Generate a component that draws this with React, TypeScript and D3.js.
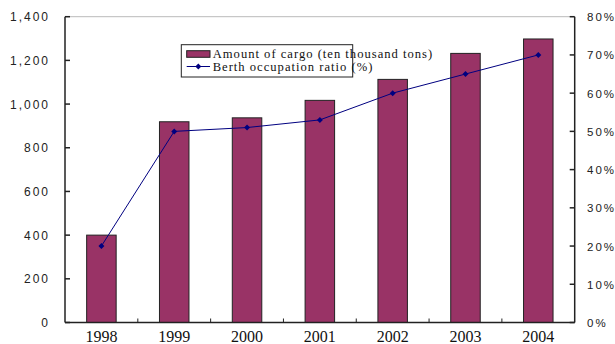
import React from "react";
import * as d3 from "d3";

const years = ["1998", "1999", "2000", "2001", "2002", "2003", "2004"];
const cargo = [400, 919, 937, 1017, 1113, 1232, 1298];
const ratio = [20, 50, 51, 53, 60, 65, 70];
const leftTicks = [0, 200, 400, 600, 800, 1000, 1200, 1400];
const rightTicks = [0, 10, 20, 30, 40, 50, 60, 70, 80];
const legendLabels = ["Amount of cargo (ten thousand tons)", "Berth occupation ratio (%)"];

export default function App() {
  const W = 615, H = 344;
  const left = 65, right = 574.7, top = 16.7, bottom = 322.5;
  const band = (right - left) / years.length;
  const xc = (y: string) => left + band * (years.indexOf(y) + 0.5);
  const yL = d3.scaleLinear().domain([0, 1400]).range([bottom, top]);
  const yR = d3.scaleLinear().domain([0, 80]).range([bottom, top]);
  const bw = 29.5;
  const line = d3.line<number>().x((_, i) => xc(years[i])).y((d) => yR(d));
  const fmt = d3.format(",");
  const axisFont = { fontFamily: "Liberation Sans, Arial, sans-serif", fontSize: 12, letterSpacing: 2, fill: "#222" };
  return (
    <svg width={W} height={H} style={{ position: "absolute", left: 0, top: 0 }}>
      <rect width={W} height={H} fill="#fff" />
      <line x1={left} x2={right} y1={top} y2={top} stroke="#bbb" strokeWidth={1} />
      {years.map((yr, i) => (
        <rect key={yr} x={xc(yr) - bw / 2} y={yL(cargo[i])} width={bw} height={bottom - yL(cargo[i])}
          fill="#993366" stroke="#222" strokeWidth={1} />
      ))}
      <path d={line(ratio) || ""} fill="none" stroke="#000080" strokeWidth={1} />
      {ratio.map((r, i) => {
        const cx = xc(years[i]), cy = yR(r);
        return <path key={i} d={`M${cx - 3},${cy}L${cx},${cy - 3}L${cx + 3},${cy}L${cx},${cy + 3}Z`} fill="#000080" />;
      })}
      <line x1={left} x2={left} y1={top} y2={bottom} stroke="#222" strokeWidth={1.5} />
      <line x1={right} x2={right} y1={top} y2={bottom} stroke="#222" strokeWidth={1.5} />
      <line x1={left} x2={right} y1={bottom} y2={bottom} stroke="#222" strokeWidth={1.5} />
      {leftTicks.map((t) => (
        <g key={t}>
          <line x1={left} x2={left + 5} y1={yL(t)} y2={yL(t)} stroke="#222" strokeWidth={1.5} />
          <text x={50} y={yL(t) + 4.5} textAnchor="end" {...axisFont}>{fmt(t)}</text>
        </g>
      ))}
      {rightTicks.map((t) => (
        <g key={t}>
          <line x1={right - 5} x2={right} y1={yR(t)} y2={yR(t)} stroke="#222" strokeWidth={1.5} />
          <text x={587} y={yR(t) + 4.5} textAnchor="start" {...axisFont} fontSize={11.5}>{t + "%"}</text>
        </g>
      ))}
      {years.slice(1).map((yr, i) => (
        <line key={yr} x1={left + band * (i + 1)} x2={left + band * (i + 1)} y1={bottom} y2={bottom - 4} stroke="#222" strokeWidth={1} />
      ))}
      {years.map((yr) => (
        <text key={yr} x={xc(yr)} y={342} textAnchor="middle" fontFamily="Liberation Serif, Times New Roman, serif" fontSize={16} fill="#111">{yr}</text>
      ))}
      <rect x={181.3} y={44.7} width={171.4} height={32.3} fill="#fff" stroke="#222" strokeWidth={1} />
      <rect x={186.7} y={50.7} width={23.3} height={6.6} fill="#993366" stroke="#222" strokeWidth={1} />
      <line x1={186.7} x2={210} y1={66.5} y2={66.5} stroke="#000080" strokeWidth={1} />
      <path d={`M195.3,66.5L198.3,63.5L201.3,66.5L198.3,69.5Z`} fill="#000080" />
      <text x={212.7} y={57.5} fontFamily="Liberation Serif, Times New Roman, serif" fontSize={12.6} letterSpacing={1} fill="#111">{legendLabels[0]}</text>
      <text x={212.7} y={70.5} fontFamily="Liberation Serif, Times New Roman, serif" fontSize={12.6} letterSpacing={1} fill="#111">{legendLabels[1]}</text>
    </svg>
  );
}
